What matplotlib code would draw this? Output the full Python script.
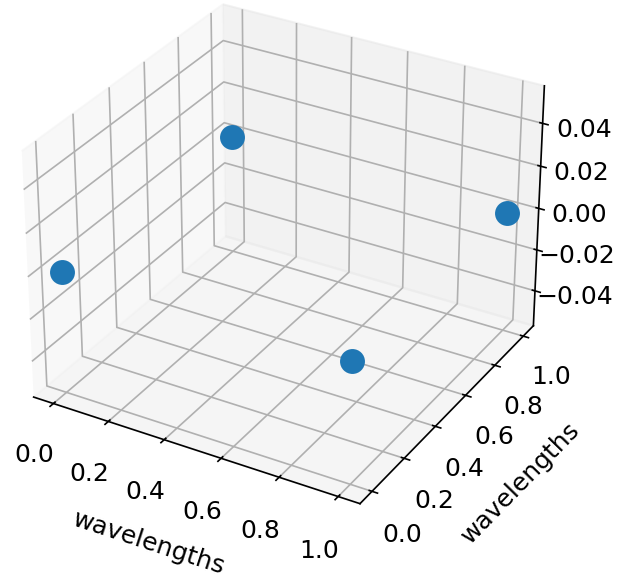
import matplotlib
matplotlib.use("Agg")
import matplotlib.pyplot as plt
import numpy as np

xs = [0.0, 0.0, 1.0, 1.0]
ys = [0.0, 1.0, 0.0, 1.0]
zs = [0.0, 0.0, 0.0, 0.0]

plt.rcParams['font.size'] = 12
dpi = 150
fig = plt.figure(figsize=(627/dpi, 581/dpi), dpi=dpi)
ax = fig.add_axes([-0.053, 0.07, 1.0, 1.0], projection='3d')
ax.scatter(xs, ys, zs, s=120, depthshade=False)
ax.set_xlabel('wavelengths', labelpad=11)
ax.set_ylabel('wavelengths', labelpad=10)
ax.tick_params(axis='x', pad=6)
ax.tick_params(axis='y', pad=5)
ax.tick_params(axis='z', pad=4)
fig.savefig('out.png', dpi=dpi)
